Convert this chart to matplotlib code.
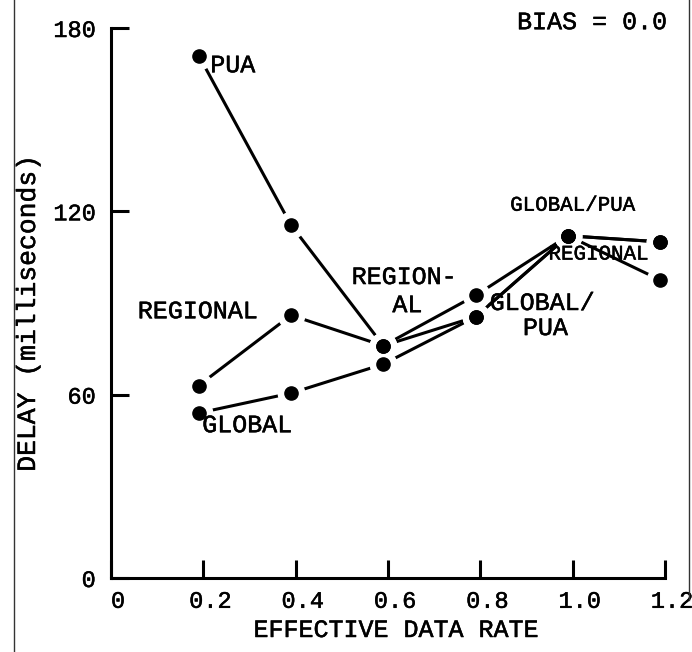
import matplotlib
matplotlib.use("Agg")
import matplotlib.pyplot as plt
import matplotlib.transforms as mtransforms
import matplotlib.patheffects as pe
from matplotlib.lines import Line2D

# datos (BIAS = 0.0)
tasa = [0.19, 0.39, 0.59, 0.79, 0.99, 1.19]
retardo_pua = [171, 115.5, 76, 85.5, 112, 110]
retardo_regional = [63, 86, 76, 92.5, 112, 97.5]
retardo_global = [54, 60.5, 70, 85.5, 112, 110]

x_ticks = [0, 0.2, 0.4, 0.6, 0.8, 1.0, 1.2]
x_tick_labels = ["0", "0.2", "0.4", "0.6", "0.8", "1.0", "1.2"]
y_ticks = [0, 60, 120, 180]

FUENTE = "Liberation Mono"
# trazo un poco mas grueso, como de maquina de escribir
TRAZO = [pe.withStroke(linewidth=0.35, foreground="black")]
W, H = 692, 652

fig = plt.figure(figsize=(W / 100, H / 100), dpi=100)
ax = fig.add_axes([111 / W, 1 - 578 / H, 554 / W, 550 / H])

series = [retardo_pua, retardo_regional, retardo_global]

# lineas primero, luego un circulo blanco que deja el hueco y el punto negro
for valores in series:
    ax.plot(tasa, valores, color="black", lw=2.2, clip_on=False, zorder=2)
for valores in series:
    ax.plot(tasa, valores, ls="none", marker="o", ms=20, mfc="white", mec="none",
            clip_on=False, zorder=3)
for valores in series:
    ax.plot(tasa, valores, ls="none", marker="o", ms=9.5, mfc="black", mec="black",
            clip_on=False, zorder=4)

ax.set_xlim(0, 1.2)
ax.set_ylim(0, 180)
for lado in ["top", "right"]:
    ax.spines[lado].set_visible(False)
for lado in ["left", "bottom"]:
    ax.spines[lado].set_linewidth(2.2)

ax.set_xticks(x_ticks)
ax.set_xticklabels(x_tick_labels)
ax.set_yticks(y_ticks)
ax.tick_params(direction="in", length=13, width=2.2, labelsize=17)
ax.tick_params(axis="x", pad=8.5)
ax.tick_params(axis="y", pad=11)
for lbl in ax.get_xticklabels() + ax.get_yticklabels():
    lbl.set_fontfamily(FUENTE)
    lbl.set_path_effects(TRAZO)

desplaza = mtransforms.ScaledTranslation(7 / 100, 0, fig.dpi_scale_trans)
for lbl in ax.get_xticklabels():
    lbl.set_transform(lbl.get_transform() + desplaza)

# etiquetas de las curvas
txt = dict(family=FUENTE, fontsize=18, va="center", path_effects=TRAZO)
ax.text(0.215, 167.8, "PUA", ha="left", **txt)
ax.text(0.188, 87.3, "REGIONAL", ha="center", **txt)
ax.text(0.295, 50, "GLOBAL", ha="center", **txt)
ax.text(0.635, 98.5, "REGION-", ha="center", **txt)
ax.text(0.642, 89.3, "AL", ha="center", **txt)
ax.text(0.934, 90, "GLOBAL/", ha="center", **txt)
ax.text(0.941, 81.8, "PUA", ha="center", **txt)
ax.text(1.0, 122, "GLOBAL/PUA", ha="center", family=FUENTE, fontsize=15,
        va="center", path_effects=TRAZO)
ax.text(1.056, 106, "REGIONAL", ha="center", family=FUENTE, fontsize=15,
        va="center", path_effects=TRAZO)
ax.text(1.042, 181.9, "BIAS = 0.0", ha="center", **txt)

fig.text(396 / W, 1 - 630 / H, "EFFECTIVE DATA RATE", ha="center", va="center",
         family=FUENTE, fontsize=18, path_effects=TRAZO)
fig.text(28 / W, 1 - 313 / H, "DELAY (milliseconds)", ha="center", va="center",
         rotation=90, family=FUENTE, fontsize=19, path_effects=TRAZO)

# bordes del papel escaneado
fig.add_artist(Line2D([14 / W, 14 / W], [0, 1], color="#333333", lw=1))
fig.add_artist(Line2D([689 / W, 689 / W], [0.08, 1], color="#333333", lw=1))

fig.savefig("out.png", dpi=100)
